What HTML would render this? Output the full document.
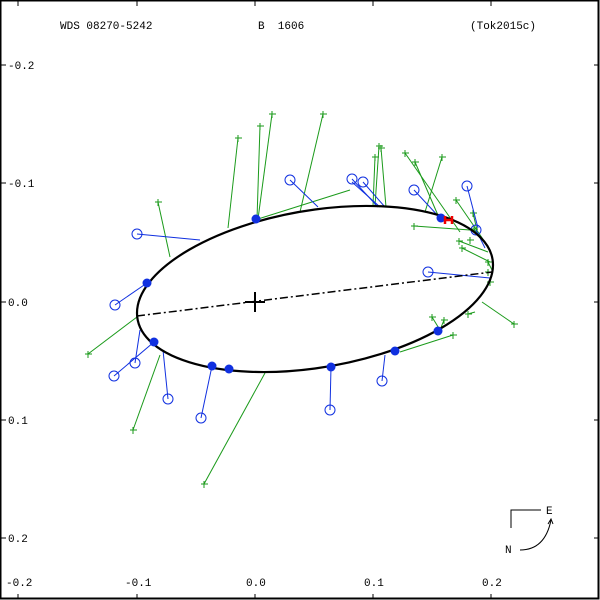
<!DOCTYPE html>
<html><head><style>
html,body{margin:0;padding:0;background:#fff}
svg{display:block}
text{font-family:"Liberation Mono","DejaVu Sans Mono",monospace;font-size:11px;fill:#000}
</style></head><body>
<svg width="600" height="600" viewBox="0 0 600 600" xmlns="http://www.w3.org/2000/svg">
<rect x="0.5" y="0.5" width="598" height="598" fill="none" stroke="#000" stroke-width="2"/>
<g stroke="#000" stroke-width="1">
<line x1="18" y1="1" x2="18" y2="6"/><line x1="137" y1="1" x2="137" y2="6"/><line x1="255" y1="1" x2="255" y2="6"/><line x1="373" y1="1" x2="373" y2="6"/><line x1="491" y1="1" x2="491" y2="6"/>
<line x1="18" y1="599" x2="18" y2="594"/><line x1="137" y1="599" x2="137" y2="594"/><line x1="255" y1="599" x2="255" y2="594"/><line x1="373" y1="599" x2="373" y2="594"/><line x1="491" y1="599" x2="491" y2="594"/>
<line x1="1" y1="65" x2="6" y2="65"/><line x1="1" y1="183" x2="6" y2="183"/><line x1="1" y1="302" x2="6" y2="302"/><line x1="1" y1="420" x2="6" y2="420"/><line x1="1" y1="538" x2="6" y2="538"/>
<line x1="599" y1="65" x2="594" y2="65"/><line x1="599" y1="183" x2="594" y2="183"/><line x1="599" y1="302" x2="594" y2="302"/><line x1="599" y1="420" x2="594" y2="420"/><line x1="599" y1="538" x2="594" y2="538"/>
</g>
<text x="60" y="29">WDS 08270-5242</text>
<text x="258" y="29">B&#160; 1606</text>
<text x="470" y="29">(Tok2015c)</text>
<text x="8" y="69">-0.2</text><text x="8" y="187">-0.1</text><text x="8" y="306">0.0</text><text x="8" y="424">0.1</text><text x="8" y="542">0.2</text>
<text x="6" y="586">-0.2</text><text x="125" y="586">-0.1</text><text x="246" y="586">0.0</text><text x="364" y="586">0.1</text><text x="482" y="586">0.2</text>
<g stroke="#1a9a1a" stroke-width="1" fill="none">
<line x1="88" y1="354" x2="137" y2="317"/><line x1="133" y1="430" x2="160" y2="355"/><line x1="158" y1="202" x2="170" y2="257"/><line x1="204" y1="484" x2="265" y2="373"/>
<line x1="238" y1="138" x2="228" y2="228"/><line x1="260" y1="126" x2="257" y2="219"/><line x1="272" y1="114" x2="258" y2="219"/><line x1="323" y1="114" x2="300" y2="212"/>
<line x1="379" y1="146" x2="375" y2="206"/><line x1="381" y1="148" x2="386" y2="207"/><line x1="375" y1="157" x2="373" y2="206"/>
<line x1="405" y1="153" x2="460" y2="232"/><line x1="415" y1="162" x2="440" y2="220"/><line x1="442" y1="157" x2="425" y2="212"/><line x1="414" y1="226" x2="470" y2="230"/>
<line x1="456" y1="200" x2="487" y2="245"/><line x1="473" y1="213" x2="477" y2="230"/><line x1="474" y1="229" x2="480" y2="238"/><line x1="459" y1="241" x2="488" y2="252"/><line x1="462" y1="248" x2="490" y2="262"/>
<line x1="488" y1="262" x2="492" y2="270"/><line x1="490" y1="282" x2="491" y2="278"/><line x1="514" y1="324" x2="482" y2="302"/><line x1="468" y1="314" x2="475" y2="312"/>
<line x1="432" y1="317" x2="440" y2="330"/><line x1="444" y1="320" x2="440" y2="330"/><line x1="453" y1="335" x2="400" y2="352"/><line x1="258" y1="219" x2="350" y2="190"/>
</g>
<g stroke="#1a9a1a" stroke-width="1">
<path d="M85 354h7M88 351v7 M130 430h7M133 427v7 M155 202h7M158 199v7 M201 484h7M204 481v7 M235 138h7M238 135v7 M257 126h7M260 123v7 M269 114h7M272 111v7 M320 114h7M323 111v7 M376 146h7M379 143v7 M378 148h7M381 145v7 M372 157h7M375 154v7 M402 153h7M405 150v7 M412 162h7M415 159v7 M439 157h7M442 154v7 M411 226h7M414 223v7 M453 200h7M456 197v7 M470 213h7M473 210v7 M471 229h7M474 226v7 M456 241h7M459 238v7 M459 248h7M462 245v7 M485 262h7M488 259v7 M487 282h7M490 279v7 M511 324h7M514 321v7 M465 314h7M468 311v7 M429 317h7M432 314v7 M441 320h7M444 317v7 M450 335h7M453 332v7 M467 240h7M470 237v7 M485 272h7M488 269v7"/>
</g>
<g stroke="#1030e0" stroke-width="1" fill="none">
<line x1="137" y1="234" x2="200" y2="240"/><line x1="115" y1="305" x2="147" y2="283"/><line x1="114" y1="376" x2="154" y2="342"/><line x1="135" y1="363" x2="140" y2="330"/>
<line x1="168" y1="399" x2="163" y2="350"/><line x1="201" y1="418" x2="212" y2="366"/><line x1="290" y1="180" x2="318" y2="207"/><line x1="330" y1="410" x2="331" y2="367"/>
<line x1="352" y1="179" x2="378" y2="207"/><line x1="363" y1="182" x2="385" y2="207"/><line x1="382" y1="381" x2="385" y2="355"/><line x1="414" y1="190" x2="440" y2="218"/>
<line x1="428" y1="272" x2="490" y2="278"/><line x1="467" y1="186" x2="478" y2="228"/><line x1="476" y1="230" x2="485" y2="248"/><line x1="352" y1="182" x2="380" y2="207"/>
<circle cx="137" cy="234" r="5"/><circle cx="115" cy="305" r="5"/><circle cx="114" cy="376" r="5"/><circle cx="135" cy="363" r="5"/><circle cx="168" cy="399" r="5"/>
<circle cx="201" cy="418" r="5"/><circle cx="290" cy="180" r="5"/><circle cx="330" cy="410" r="5"/><circle cx="352" cy="179" r="5"/><circle cx="363" cy="182" r="5"/>
<circle cx="382" cy="381" r="5"/><circle cx="414" cy="190" r="5"/><circle cx="428" cy="272" r="5"/><circle cx="467" cy="186" r="5"/><circle cx="476" cy="230" r="5"/>
</g>
<path d="M1 0A1 1 0 1 1 -1 0A1 1 0 1 1 1 0Z" transform="matrix(178,-24,0,79.5,315,289)" fill="none" stroke="#000" stroke-width="2.2" vector-effect="non-scaling-stroke"/>
<line x1="137" y1="316" x2="492" y2="272" stroke="#000" stroke-width="1.5" stroke-dasharray="8,3,2,3"/>
<path d="M245 302h20M255 292v20" stroke="#000" stroke-width="2"/>
<g fill="#1030e0">
<circle cx="147" cy="283" r="4.5"/><circle cx="154" cy="342" r="4.5"/><circle cx="212" cy="366" r="4.5"/><circle cx="229" cy="369" r="4.5"/><circle cx="256" cy="219" r="4.5"/>
<circle cx="331" cy="367" r="4.5"/><circle cx="395" cy="351" r="4.5"/><circle cx="438" cy="331" r="4.5"/><circle cx="441" cy="218" r="4.5"/>
</g>
<path d="M445 216v8M452 216v8M445 220h7" stroke="#e00" stroke-width="2.5"/>
<path d="M511 528v-18h30" stroke="#000" fill="none"/>
<text x="546" y="514">E</text>
<text x="505" y="553">N</text>
<path d="M520 550Q545 550 551 520" stroke="#000" fill="none"/>
<path d="M548 524l3-5 2 5" stroke="#000" fill="none"/>
</svg>
</body></html>
